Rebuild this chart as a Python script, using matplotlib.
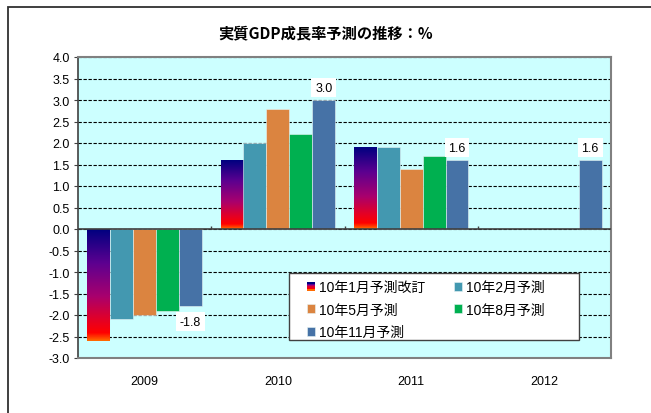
import numpy as np
import matplotlib
matplotlib.use("Agg")
import matplotlib.pyplot as plt
from matplotlib.patches import Rectangle
from matplotlib.legend_handler import HandlerBase
from matplotlib.colors import LinearSegmentedColormap

plt.rcParams['font.family'] = ['Liberation Sans', 'Noto Sans CJK JP']

years = ["2009", "2010", "2011", "2012"]
series_names = ["10年1月予測改訂", "10年2月予測", "10年5月予測",
                "10年8月予測", "10年11月予測"]
jan = [-2.6, 1.6, 1.9, np.nan]
feb = [-2.1, 2.0, 1.9, np.nan]
may = [-2.0, 2.8, 1.4, np.nan]
aug = [-1.9, 2.2, 1.7, np.nan]
nov = [-1.8, 3.0, 1.6, 1.6]
values = [jan, feb, may, aug, nov]

colors = [None, "#4398B0", "#DB8440", "#00B050", "#4672A6"]
grad_colors = ["#000080", "#5C0090", "#A8006E", "#E0002A", "#FF0000", "#FF6A00"]
grad_cmap = LinearSegmentedColormap.from_list(
    "jan", list(zip([0.0, 0.3, 0.6, 0.8, 0.93, 1.0], grad_colors)))

# labelled points: (series index, category index)
labelled = [(4, 0), (4, 1), (4, 2), (4, 3)]


class GradientHandler(HandlerBase):
    def create_artists(self, legend, orig_handle, xdescent, ydescent,
                       width, height, fontsize, trans):
        arts = []
        n = len(grad_colors)
        for i, c in enumerate(grad_colors):
            r = Rectangle((-xdescent, -ydescent + height * (n - 1 - i) / n),
                          width, height / n, facecolor=c, edgecolor='none',
                          transform=trans)
            arts.append(r)
        return arts


fig = plt.figure(figsize=(6.51, 4.14), dpi=100)
ax = fig.add_axes([78 / 651, 1 - 359 / 414, 533 / 651, 301 / 414])
ax.set_facecolor("#CCFFFF")

x = np.arange(len(years))
n = len(values)
width = 0.172
offsets = (np.arange(n) - (n - 1) / 2) * width

handles = []
for i, vals in enumerate(values):
    if i == 0:
        bars = ax.bar(x + offsets[i], vals, width, color='none',
                      edgecolor='none', zorder=3)
        grad = np.linspace(0, 1, 200).reshape(-1, 1)
        for b in bars:
            h = b.get_height()
            if np.isnan(h):
                continue
            bx, by = b.get_x(), b.get_y()
            y0, y1 = min(by, by + h), max(by, by + h)
            ax.imshow(grad, cmap=grad_cmap, aspect='auto', zorder=3,
                      extent=[bx, bx + b.get_width(), y0, y1],
                      origin='upper', interpolation='bilinear')
        handles.append(bars)
    else:
        bars = ax.bar(x + offsets[i], vals, width, color=colors[i],
                      edgecolor='#E8F4F4', linewidth=0.4, zorder=3)
        handles.append(bars)

for si, ci in labelled:
    v = values[si][ci]
    off = 9 if v >= 0 else -11
    ax.annotate(f"{v:.1f}", (x[ci] + offsets[si], v), xytext=(0, off),
                textcoords='offset points', ha='center', va='center',
                fontsize=9, zorder=6,
                bbox=dict(boxstyle='square,pad=0.3', fc='white', ec='none'))

ax.set_xlim(-0.5, len(years) - 0.5)
ax.set_ylim(-3.0, 4.0)
ax.set_yticks(np.arange(-3.0, 4.01, 0.5))
ax.set_yticklabels([f"{t:.1f}" for t in np.arange(-3.0, 4.01, 0.5)], fontsize=9)
ax.set_xticks(x)
ax.set_xticklabels(years, fontsize=9)
ax.tick_params(axis='x', length=0, pad=12)
ax.tick_params(axis='y', length=3, width=0.8, color='#404040', pad=3)

ax.yaxis.grid(True, linestyle=(0, (3, 1.5)), color='black', linewidth=0.8)
ax.set_axisbelow(True)

# zero axis with tick marks at category boundaries
ax.axhline(0, color='#404040', linewidth=1.2, zorder=4)
bounds = np.arange(len(years) + 1) - 0.5
ax.vlines(bounds[1:-1], 0, 0.08, color='#404040', linewidth=1, zorder=4)

for side in ['top', 'right', 'bottom']:
    ax.spines[side].set_linestyle((0, (2, 1)))
    ax.spines[side].set_color('#808080')
    ax.spines[side].set_linewidth(1.5)
ax.spines['left'].set_color('#404040')
ax.spines['left'].set_linewidth(1.2)

# legend box drawn separately so its size matches the original
ax.add_patch(Rectangle((0.396, 0.06), 0.544, 0.2225, transform=ax.transAxes,
                       facecolor='white', edgecolor='#404040', linewidth=1.0,
                       zorder=6.5))
order = [0, 2, 4, 1, 3]
leg = ax.legend([handles[i] for i in order], [series_names[i] for i in order],
                ncol=2, loc='upper left', bbox_to_anchor=(0.4296, 0.258),
                fontsize=10, frameon=False,
                handlelength=0.6, handleheight=0.6, handletextpad=0.3,
                columnspacing=2.0, labelspacing=0.6, borderpad=0,
                borderaxespad=0,
                handler_map={handles[0]: GradientHandler()})
leg.set_zorder(7)

fig.text(0.5, 1 - 33 / 414, "実質GDP成長率予測の推移：%", ha='center',
         va='center', fontsize=11, fontweight='bold',
         family=['Noto Sans CJK JP', 'Liberation Sans'])

# outer chart border (only top and left visible)
fig.add_artist(Rectangle((8 / 651, -0.1), 1.2, 1.1 - 8 / 414,
                         transform=fig.transFigure, fill=False,
                         edgecolor='#303030', linewidth=1.3))

fig.savefig("out.png", dpi=100)
